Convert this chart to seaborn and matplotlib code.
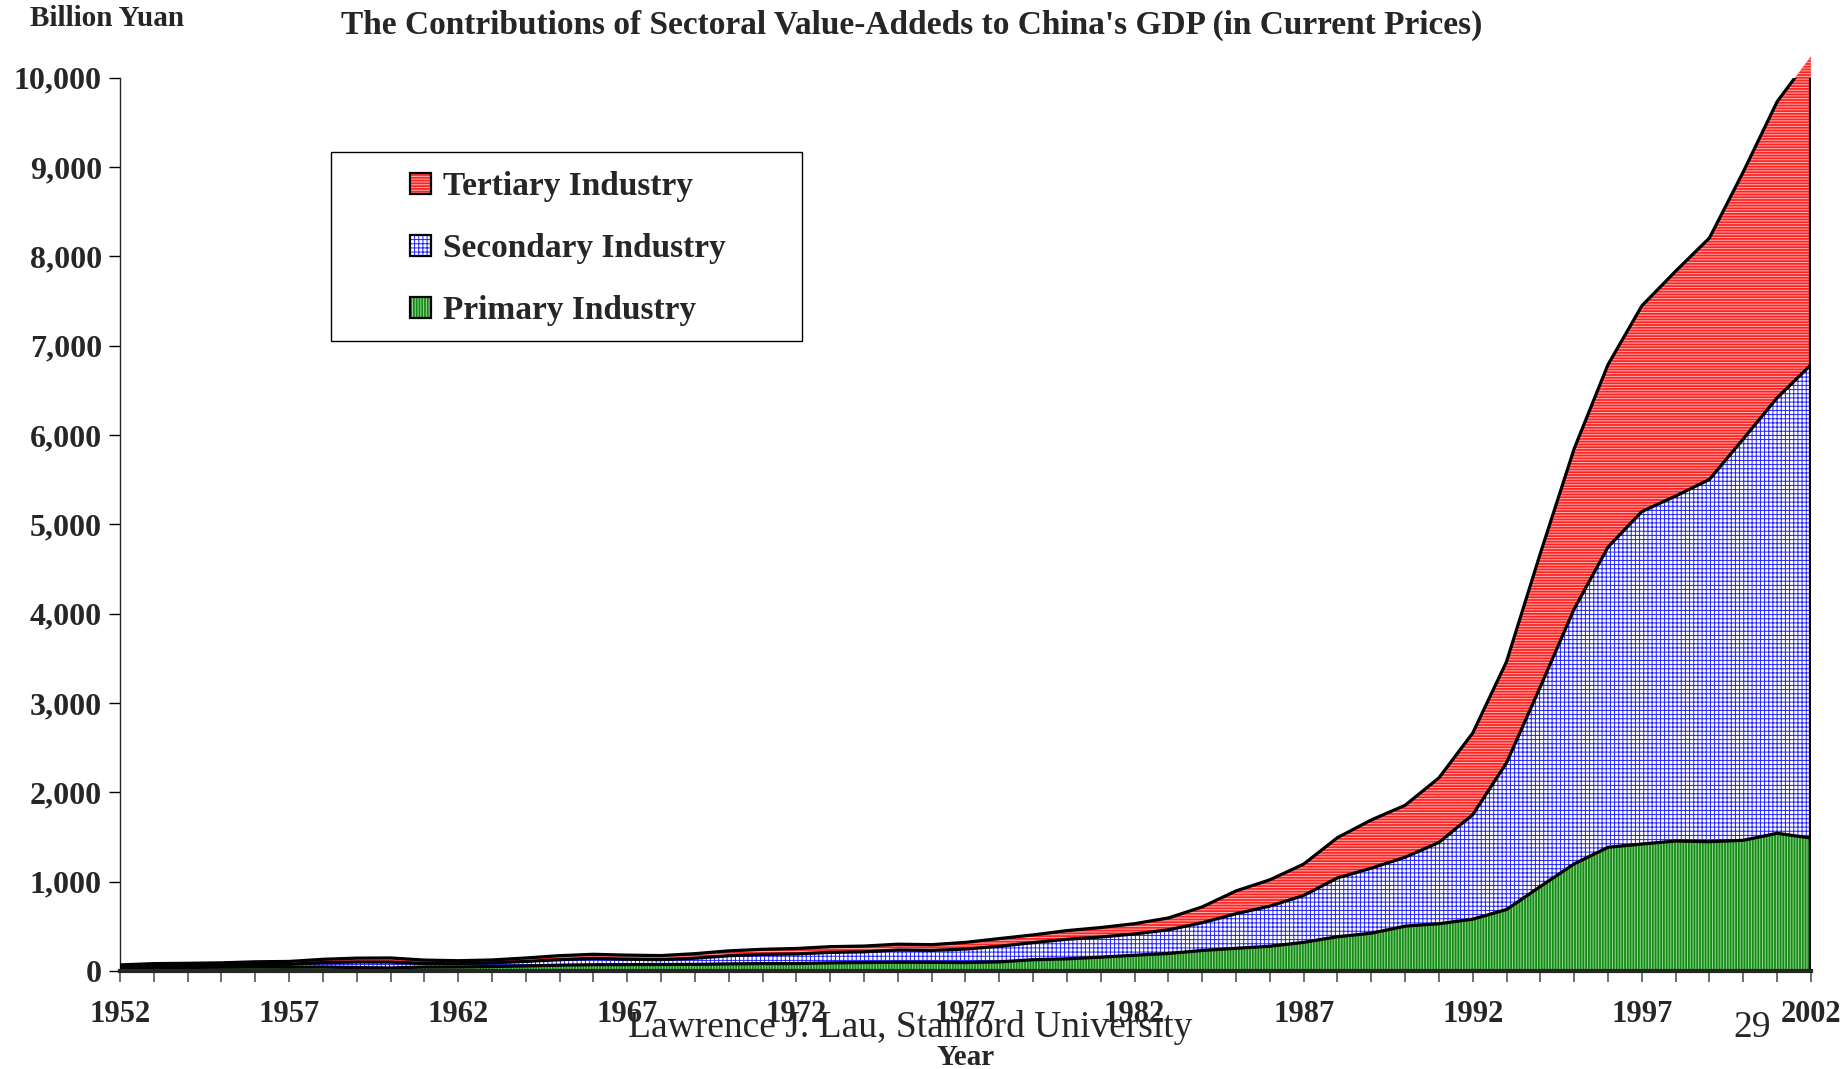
import matplotlib
matplotlib.use("Agg")
import matplotlib.pyplot as plt
import seaborn as sns
import numpy as np
import pandas as pd
from matplotlib.patches import Patch, Rectangle
from matplotlib.legend_handler import HandlerTuple
from matplotlib.ticker import FuncFormatter, MultipleLocator, FixedLocator

years = list(range(1952, 2003))
primary = [34.29, 37.80, 39.20, 42.10, 44.39, 43.00, 44.59, 38.38, 34.07, 44.11,
           45.31, 49.75, 55.90, 65.11, 70.22, 71.42, 72.63, 73.62, 79.33, 82.63,
           82.74, 90.75, 94.52, 97.11, 96.70, 94.21, 101.84, 125.89, 135.94, 154.56,
           176.16, 196.08, 229.55, 254.16, 276.39, 320.43, 383.10, 422.80, 501.70, 528.86,
           580.00, 688.21, 945.72, 1199.30, 1384.42, 1421.12, 1455.24, 1447.20, 1462.82, 1541.18,
           1488.33]
secondary = [14.18, 19.25, 21.17, 22.22, 28.07, 31.70, 48.35, 61.55, 64.82, 38.89,
             35.93, 40.76, 51.35, 60.22, 70.95, 60.28, 53.73, 68.91, 91.22, 102.28,
             108.42, 117.30, 119.20, 137.05, 133.72, 150.91, 174.52, 191.35, 219.20, 225.55,
             238.30, 264.62, 310.57, 386.66, 449.27, 525.16, 658.72, 727.80, 771.74, 910.22,
             1169.95, 1642.85, 2237.22, 2853.79, 3361.29, 3722.27, 3861.93, 4055.78, 4493.53, 4875.00,
             5298.22]
tertiary = [19.43, 25.37, 25.57, 26.76, 30.34, 32.10, 37.76, 43.98, 46.81, 39.01,
            33.69, 32.82, 38.15, 46.28, 45.63, 45.69, 45.95, 51.26, 54.72, 57.73,
            60.65, 64.04, 65.27, 65.57, 63.95, 75.07, 86.05, 86.58, 96.64, 106.13,
            115.01, 132.75, 176.98, 255.62, 294.56, 350.66, 451.01, 540.32, 581.35, 722.70,
            913.86, 1132.38, 1493.00, 1794.72, 2042.75, 2302.87, 2517.35, 2703.77, 2990.46, 3315.30,
            3453.24]
year_labels = years[::5]
labels = ["Tertiary Industry", "Secondary Industry", "Primary Industry"]

df = pd.DataFrame({"year": years, "primary": primary,
                   "secondary": secondary, "tertiary": tertiary})
df["top1"] = df["primary"]
df["top2"] = df["top1"] + df["secondary"]
df["top3"] = df["top2"] + df["tertiary"]

sns.set_style("ticks")
plt.rcParams["font.family"] = ["Liberation Serif", "DejaVu Serif"]
plt.rcParams["font.weight"] = "bold"
plt.rcParams["hatch.linewidth"] = 0.7

fig = plt.figure(figsize=(18.46, 10.69), dpi=100)
ax = fig.add_axes([0.065, 0.0917, 0.916, 0.8356])

RED, RED_H = "#ff2424", "#ffb0b0"
BLUE_H = "#2020ff"
GREEN, GREEN_H = "#138c13", "#9ad49a"

ax.fill_between(df["year"], 0, df["top1"], facecolor=GREEN, edgecolor=GREEN_H,
                hatch="||||||", linewidth=0, clip_on=False, zorder=1)
ax.fill_between(df["year"], df["top1"], df["top2"], facecolor="white", edgecolor=BLUE_H,
                hatch="++++", linewidth=0, clip_on=False, zorder=1)
ax.fill_between(df["year"], df["top2"], df["top3"], facecolor=RED, edgecolor=RED_H,
                hatch="------", linewidth=0, clip_on=False, zorder=1)

for col in ["top1", "top2", "top3"]:
    sns.lineplot(data=df, x="year", y=col, ax=ax, color="black", linewidth=2.3, zorder=3)
ax.plot([years[-1], years[-1]], [0, df["top3"].iloc[-1]], color="black", lw=3, zorder=3)
ax.plot([years[0], years[0]], [0, df["top3"].iloc[0]], color="black", lw=2, zorder=3)

ax.set_xlim(years[0], years[-1])
ax.set_ylim(0, 10000)
ax.yaxis.set_major_locator(MultipleLocator(1000))
ax.yaxis.set_major_formatter(FuncFormatter(lambda v, p: f"{int(v):,}"))
ax.xaxis.set_major_locator(FixedLocator(year_labels))
ax.xaxis.set_minor_locator(MultipleLocator(1))
ax.xaxis.set_major_formatter(FuncFormatter(lambda v, p: f"{int(v)}"))
ax.tick_params(axis="y", direction="out", length=8, width=1, color="black",
               labelsize=23, pad=5)
ax.tick_params(axis="x", which="both", direction="out", length=8, width=1.2,
               color="#555555", labelsize=22, pad=13)
for lab in ax.get_xticklabels() + ax.get_yticklabels():
    lab.set_fontweight("bold")
sns.despine(ax=ax, top=True, right=True)
ax.spines["left"].set_linewidth(1)
ax.spines["bottom"].set_linewidth(3)
ax.spines["bottom"].set_zorder(4)
ax.set_xlabel("")
ax.set_ylabel("")

fig.text(0.494, 0.976, "The Contributions of Sectoral Value-Addeds to China's GDP (in Current Prices)",
         ha="center", va="center", fontsize=24, fontweight="bold")
fig.text(0.016, 0.983, "Billion Yuan", ha="left", va="center", fontsize=21, fontweight="bold")
fig.text(0.523, 0.011, "Year", ha="center", va="center", fontsize=21, fontweight="bold")
fig.text(0.493, 0.039, "Lawrence J. Lau, Stanford University", ha="center", va="center",
         fontsize=27, fontweight="normal")
fig.text(0.949, 0.039, "29", ha="center", va="center", fontsize=27, fontweight="normal")

# legend frame
fig.add_artist(Rectangle((331 / 1846, 1 - 341 / 1069), 471 / 1846, 189 / 1069,
                         transform=fig.transFigure, facecolor="white", edgecolor="black",
                         linewidth=1, zorder=5))
handles = [
    (Patch(facecolor=RED, edgecolor=RED_H, hatch="------", linewidth=0),
     Patch(facecolor="none", edgecolor="black", linewidth=1.6)),
    (Patch(facecolor="white", edgecolor=BLUE_H, hatch="++++", linewidth=0),
     Patch(facecolor="none", edgecolor="black", linewidth=1.6)),
    (Patch(facecolor=GREEN, edgecolor=GREEN_H, hatch="||||||", linewidth=0),
     Patch(facecolor="none", edgecolor="black", linewidth=1.6)),
]
leg = fig.legend(handles, labels, loc="upper left", bbox_to_anchor=(410 / 1846, 1 - 171 / 1069),
                 bbox_transform=fig.transFigure, frameon=False, borderpad=0, borderaxespad=0,
                 handlelength=0.63, handleheight=0.6, handletextpad=0.35,
                 labelspacing=0.93, handler_map={tuple: HandlerTuple(ndivide=1)},
                 prop={"weight": "bold", "size": 24})
leg.set_zorder(6)

fig.savefig("out.png", dpi=100)
